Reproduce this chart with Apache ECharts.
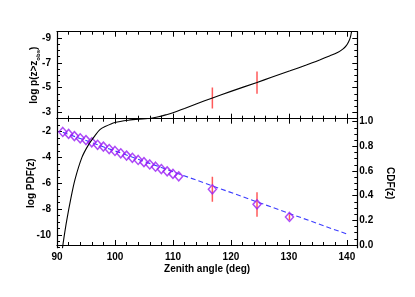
<!DOCTYPE html>
<html><head><meta charset="utf-8">
<script src="https://cdn.jsdelivr.net/npm/echarts@6/dist/echarts.min.js"></script>
<style>html,body{margin:0;padding:0;background:#fff}#c{width:415px;height:297px}</style>
</head><body><div id="c"></div>
<script>
// ---------- data ----------
const zenithTicks = [90, 100, 110, 120, 130, 140];
const zenithMinorTicks = [90,92,94,96,98,100,102,104,106,108,110,112,114,116,118,120,122,124,126,128,130,132,134,136,138,140];
const topTickLabels = [-9, -7, -5, -3];
const pdfTickLabels = [-10, -8, -6, -4, -2];
const cdfTickLabels = [0, 0.2, 0.4, 0.6, 0.8, 1.0];
const cdfMinorTicks = [0,0.05,0.1,0.15,0.2,0.25,0.3,0.35,0.4,0.45,0.5,0.55,0.6,0.65,0.7,0.75,0.8,0.85,0.9,0.95,1.0];

// bottom panel: log PDF points (diamonds)
const pdfZenith = [91,92,93,94,95,96,97,98,99,100,101,102,103,104,105,106,107,108,109,110,111,116.8,124.5,130.1];
const pdfValues = [-2.03,-2.18,-2.35,-2.52,-2.66,-2.83,-3.02,-3.16,-3.35,-3.50,-3.68,-3.86,-4.03,-4.20,-4.37,-4.55,-4.72,-4.90,-5.08,-5.28,-5.47,-6.47,-7.64,-8.62];
// error bars on log PDF
const errZenith = [116.8, 124.5, 130.1];
const errLow = [-7.43, -8.60, -8.85];
const errHigh = [-5.50, -6.71, -8.40];
// dashed fit line
const fitZenith = [91, 140.3];
const fitValues = [-2.05, -9.99];
// CDF curve
const cdfZenith = [90.93, 91.2, 91.68, 92.4, 93.1, 94.3, 95.4, 96.6, 97.4, 98.3, 100, 102.3, 104.6, 107];
const cdfValues = [-0.03, 0.06, 0.20, 0.38, 0.53, 0.71, 0.81, 0.89, 0.935, 0.96, 0.993, 1.012, 1.022, 1.03];
// top panel: log p(z>z_obs)
const pZenith = [104.5, 106, 107.5, 109, 110, 112, 114, 116.7, 120, 124.5, 127, 130.2, 133, 135.4, 137, 138.3, 139.3, 139.9, 140.3, 140.6, 140.85];
const pValues = [-2.47, -2.52, -2.65, -2.84, -2.98, -3.32, -3.68, -4.15, -4.70, -5.42, -5.83, -6.35, -6.82, -7.25, -7.55, -7.80, -8.10, -8.38, -8.70, -9.05, -9.60];
const pErrZenith = [116.8, 124.5];
const pErrLow = [-5.02, -6.30];
const pErrHigh = [-3.32, -4.51];

// ---------- chart ----------
const FONT = 'Liberation Sans';
const txt = {fontFamily: FONT, fontWeight: 'bold', fontSize: 10, color: '#000'};
const X_MIN = 90, X_MAX = 141.8;
const line = {show: true, lineStyle: {color: '#000', width: 1.2}};

function xAx(grid, pos, major, labels) {
  return {
    type: 'value', gridIndex: grid, position: pos, min: X_MIN, max: X_MAX,
    axisLine: major ? line : {show: false},
    splitLine: {show: false},
    axisTick: {show: true, inside: true, length: major ? 5 : 3, lineStyle: {color: '#000', width: 1},
               customValues: major ? zenithTicks : zenithMinorTicks},
    axisLabel: labels ? Object.assign({show: true, margin: 5, customValues: zenithTicks}, txt) : {show: false},
    name: labels ? 'Zenith angle (deg)' : '', nameLocation: 'middle', nameGap: 17,
    nameMoveOverlap: false,
    nameTextStyle: txt
  };
}
function yAx(grid, pos, min, max, inverse, ticks, labelVals, opts) {
  const o = {
    type: 'value', gridIndex: grid, position: pos, min: min, max: max, inverse: inverse,
    axisLine: labelVals !== undefined ? line : {show: false},
    splitLine: {show: false},
    nameMoveOverlap: false,
    axisTick: {show: true, inside: true, length: ticks.major ? 5 : 3, lineStyle: {color: '#000', width: 1}},
    axisLabel: {show: false}
  };
  if (ticks.values) o.axisTick.customValues = ticks.values;
  if (ticks.interval) o.interval = ticks.interval;
  if (labelVals) o.axisLabel = Object.assign({show: true, customValues: labelVals}, txt);
  return Object.assign(o, opts || {});
}

const CDF_MIN = -0.022, CDF_MAX = 1.024;

const xAxis = [
  xAx(0, 'bottom', true, false), xAx(0, 'bottom', false, false),
  xAx(0, 'top', true, false), xAx(0, 'top', false, false),
  xAx(1, 'bottom', true, true), xAx(1, 'bottom', false, false),
  xAx(1, 'top', true, false), xAx(1, 'top', false, false)
];

const yAxis = [
  // 0: top left major
  yAx(0, 'left', -9.5, -2.5, true, {major: true, values: topTickLabels}, topTickLabels, {
    name: '{a|log p(z>z}{s|obs}{a|)}', nameLocation: 'middle', nameRotate: 90, nameGap: 16,
    nameTextStyle: {rich: {
      a: {fontFamily: FONT, fontWeight: 'bold', fontSize: 10, color: '#000'},
      s: {fontFamily: FONT, fontWeight: 'bold', fontSize: 6, color: '#000', padding: [7, 0, 0, 0]}
    }}
  }),
  // 1: top left minor
  yAx(0, 'left', -9.5, -2.5, true, {major: false, interval: 0.5}),
  // 2: top right major
  yAx(0, 'right', -9.5, -2.5, true, {major: true, values: topTickLabels}, null),
  // 3: top right minor
  yAx(0, 'right', -9.5, -2.5, true, {major: false, interval: 0.5}),
  // 4: bottom left major (log PDF)
  yAx(1, 'left', -11, -1, false, {major: true, values: pdfTickLabels}, pdfTickLabels, {
    name: 'log PDF(z)', nameLocation: 'middle', nameRotate: 90, nameGap: 21, nameTextStyle: txt
  }),
  // 5: bottom left minor
  yAx(1, 'left', -11, -1, false, {major: false, interval: 0.5}),
  // 6: bottom right major (CDF)
  yAx(1, 'right', CDF_MIN, CDF_MAX, false, {major: true, values: cdfTickLabels}, cdfTickLabels, {
    name: 'CDF(z)', nameLocation: 'middle', nameRotate: -90, nameGap: 27, nameTextStyle: txt
  }),
  // 7: bottom right minor
  yAx(1, 'right', CDF_MIN, CDF_MAX, false, {major: false, values: cdfMinorTicks})
];
yAxis[2].axisLine = line;
yAxis[6].axisLabel.margin = 2;
yAxis[6].axisLabel.formatter = v => Number(v).toFixed(1);
yAxis[0].axisLabel.margin = 6;
yAxis[4].axisLabel.margin = 6;

function errSeries(xi, yi, zs, lo, hi, color, z) {
  return {
    type: 'custom', xAxisIndex: xi, yAxisIndex: yi, z: z, clip: true,
    encode: {x: 0, y: [1, 2]},
    data: zs.map((v, i) => [v, lo[i], hi[i]]),
    renderItem: (params, api) => {
      const a = api.coord([api.value(0), api.value(1)]);
      const b = api.coord([api.value(0), api.value(2)]);
      return {type: 'line', shape: {x1: a[0], y1: a[1], x2: b[0], y2: b[1]},
              style: {stroke: color, lineWidth: 1.5}};
    }
  };
}

const RED = '#FF5A5A';
const option = {
  animation: false,
  backgroundColor: '#fff',
  grid: [
    {left: 57, top: 31.7, width: 300.3, height: 87},
    {left: 57, top: 118.7, width: 300.3, height: 129}
  ],
  xAxis: xAxis,
  yAxis: yAxis,
  series: [
    errSeries(0, 0, pErrZenith, pErrLow, pErrHigh, RED, 2),
    {
      type: 'line', xAxisIndex: 0, yAxisIndex: 0, z: 3, clip: true,
      data: pZenith.map((v, i) => [v, pValues[i]]),
      showSymbol: false, symbol: 'none', smooth: 0.3,
      lineStyle: {color: '#000', width: 1.1}
    },
    errSeries(4, 4, errZenith, errLow, errHigh, RED, 2),
    {
      type: 'line', xAxisIndex: 4, yAxisIndex: 4, z: 3,
      data: fitZenith.map((v, i) => [v, fitValues[i]]),
      showSymbol: false, symbol: 'none',
      lineStyle: {color: '#3C3CFF', width: 1.1, type: [5, 3]}
    },
    {
      type: 'scatter', xAxisIndex: 4, yAxisIndex: 4, z: 4,
      data: pdfZenith.map((v, i) => [v, pdfValues[i]]),
      symbol: 'diamond', symbolSize: [8, 9],
      itemStyle: {color: 'rgba(255,255,255,0)', borderColor: '#9A1EF5', borderWidth: 1.5}
    },
    {
      type: 'line', xAxisIndex: 4, yAxisIndex: 6, z: 5, clip: true,
      data: cdfZenith.map((v, i) => [v, cdfValues[i]]),
      showSymbol: false, symbol: 'none', smooth: 0.3,
      lineStyle: {color: '#000', width: 1.1}
    }
  ]
};
const chart = echarts.init(document.getElementById('c'), null, {renderer: 'canvas'});
chart.setOption(option);
</script>
</body></html>
